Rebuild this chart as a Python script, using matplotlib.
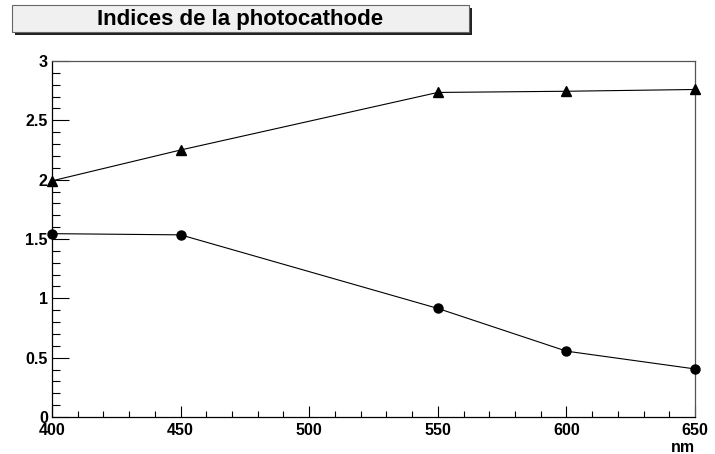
import matplotlib
matplotlib.use("Agg")
import matplotlib.pyplot as plt
from matplotlib.patches import Rectangle
from matplotlib.ticker import MultipleLocator, FuncFormatter
from matplotlib import font_manager

wavelength = [400, 450, 550, 600, 650]
index_triangle = [1.99, 2.25, 2.735, 2.745, 2.76]
index_circle = [1.545, 1.535, 0.915, 0.555, 0.405]
title_text = "Indices de la photocathode"
x_label = "nm"

names = {f.name for f in font_manager.fontManager.ttflist}
narrow = 'Liberation Sans Narrow' if 'Liberation Sans Narrow' in names else 'Liberation Sans'
plt.rcParams['font.family'] = [narrow, 'DejaVu Sans']

W, H = 715, 454
fig = plt.figure(figsize=(W / 100, H / 100), dpi=100)
ax = fig.add_axes([52 / W, 1 - 417 / H, (695 - 52) / W, (417 - 61) / H])

ax.plot(wavelength, index_triangle, color='black', lw=0.8, marker='^',
        markersize=7.5, markerfacecolor='black', markeredgecolor='black', clip_on=False, zorder=3)
ax.plot(wavelength, index_circle, color='black', lw=0.8, marker='o',
        markersize=6.5, markerfacecolor='black', markeredgecolor='black', clip_on=False, zorder=3)

ax.set_xlim(400, 650)
ax.set_ylim(0, 3)
ax.xaxis.set_major_locator(MultipleLocator(50))
ax.xaxis.set_minor_locator(MultipleLocator(10))
ax.yaxis.set_major_locator(MultipleLocator(0.5))
ax.yaxis.set_minor_locator(MultipleLocator(0.1))
ax.yaxis.set_major_formatter(FuncFormatter(lambda v, p: f"{v:g}"))

ax.tick_params(axis='x', which='major', direction='in', length=8, width=0.8,
               labelsize=11.5, pad=4, top=False)
ax.tick_params(axis='x', which='minor', direction='in', length=4.3, width=0.8, top=False)
ax.tick_params(axis='y', which='major', direction='in', length=12, width=0.8,
               labelsize=11.5, pad=3, right=False)
ax.tick_params(axis='y', which='minor', direction='in', length=6, width=0.8, right=False)
for lab in ax.get_xticklabels() + ax.get_yticklabels():
    lab.set_fontweight('bold')

for side in ['left', 'bottom']:
    ax.spines[side].set_color('black')
    ax.spines[side].set_linewidth(0.9)
for side in ['top', 'right']:
    ax.spines[side].set_color('#555555')
    ax.spines[side].set_linewidth(0.9)

fig.text(683 / W, 1 - 447 / H, x_label, ha='center', va='center',
         fontsize=11.5, fontweight='bold')

# title box with shadow
x0, y0, x1, y1 = 12, 5, 469, 32
sh = 3
fig.patches.append(Rectangle(((x0 + sh) / W, 1 - (y1 + sh) / H), (x1 - x0) / W, (y1 - y0) / H,
                             transform=fig.transFigure, facecolor='#222222', edgecolor='none', zorder=1))
fig.patches.append(Rectangle((x0 / W, 1 - y1 / H), (x1 - x0) / W, (y1 - y0) / H,
                             transform=fig.transFigure, facecolor='#f0f0f0', edgecolor='#666666',
                             linewidth=0.8, zorder=2))
fig.text((x0 + x1) / 2 / W, 1 - 19 / H, title_text, ha='center', va='center',
         fontsize=16, fontweight='bold', zorder=3)

fig.savefig("out.png", dpi=100)
